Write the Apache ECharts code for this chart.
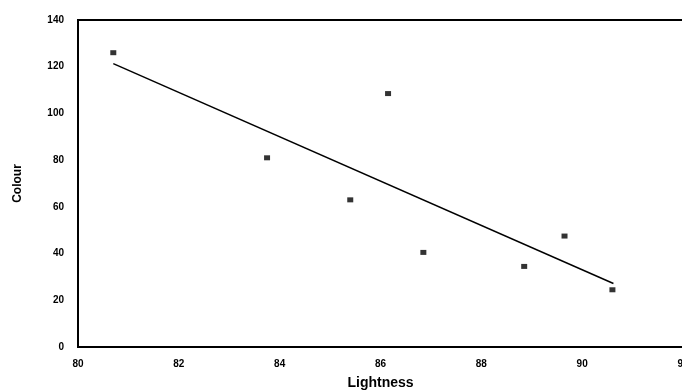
<!DOCTYPE html>
<html>
<head>
<meta charset="utf-8">
<script src="https://cdn.jsdelivr.net/npm/echarts@6/dist/echarts.min.js"></script>
<style>
  html, body { margin: 0; padding: 0; background: #fff; }
  #chart { width: 682px; height: 391px; }
</style>
</head>
<body>
<div id="chart"></div>
<script>
// measured samples: lightness vs colour
const lightness = [80.7, 83.75, 85.4, 86.15, 86.85, 88.85, 89.65, 90.6]
const colour = [126, 81, 63, 108.5, 40.5, 34.5, 47.5, 24.5]
// fitted trend line end points
const trendX = [80.7, 90.62]
const trendY = [121.3, 27.2]

const points = lightness.map((x, i) => [x, colour[i]])
const trend = trendX.map((x, i) => [x, trendY[i]])

const labelFont = {
  color: '#000',
  fontFamily: 'Liberation Sans',
  fontWeight: 'bold',
  fontSize: 10
}

const chart = echarts.init(document.getElementById('chart'))
chart.setOption({
  animation: false,
  backgroundColor: '#fff',
  grid: {
    left: 78,
    right: -1,
    top: 20,
    bottom: 44,
    outerBoundsMode: 'none',
    containLabel: false,
    show: true,
    borderColor: '#000',
    borderWidth: 2
  },
  xAxis: {
    type: 'value',
    min: 80,
    max: 92,
    interval: 2,
    name: 'Lightness',
    nameLocation: 'middle',
    nameGap: 29,
    nameTextStyle: {
      color: '#000',
      fontFamily: 'Liberation Sans',
      fontWeight: 'bold',
      fontSize: 14
    },
    axisLine: { show: true, lineStyle: { color: '#000', width: 2 } },
    axisTick: { show: false },
    splitLine: { show: false },
    axisLabel: Object.assign({ margin: 12, showMaxLabel: true }, labelFont)
  },
  yAxis: {
    type: 'value',
    min: 0,
    max: 140,
    interval: 20,
    name: 'Colour',
    nameLocation: 'middle',
    nameGap: 54,
    nameRotate: 90,
    nameTextStyle: {
      color: '#000',
      fontFamily: 'Liberation Sans',
      fontWeight: 'bold',
      fontSize: 12
    },
    axisLine: { show: true, lineStyle: { color: '#000', width: 2 } },
    axisTick: { show: false },
    splitLine: { show: false },
    axisLabel: Object.assign({ margin: 14 }, labelFont)
  },
  series: [
    {
      type: 'line',
      data: trend,
      symbol: 'none',
      lineStyle: { color: '#000', width: 1.5 }
    },
    {
      type: 'scatter',
      data: points,
      symbol: 'rect',
      symbolSize: [6, 5],
      itemStyle: { color: '#000' }
    }
  ]
})
</script>
</body>
</html>
